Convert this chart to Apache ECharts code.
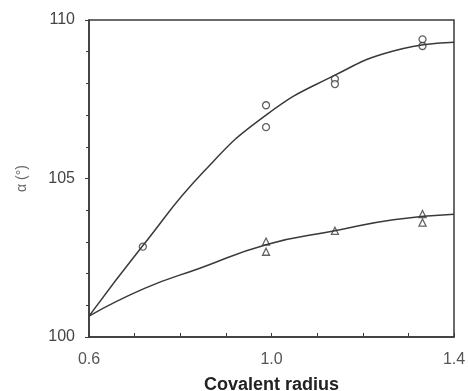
<!DOCTYPE html>
<html lang="en">
<head>
  <meta charset="UTF-8">
  <title>Covalent radius</title>
  <script src="https://cdn.jsdelivr.net/npm/echarts@6/dist/echarts.min.js"></script>
  <style>
    html, body { margin: 0; padding: 0; background: #fff; }
    #chart { width: 468px; height: 391px; }
  </style>
</head>
<body>
  <div id="chart"></div>
  <script>
    // measured points
    var circleX = [0.718, 0.988, 0.988, 1.139, 1.139, 1.331, 1.331]
    var circleY = [102.85, 107.31, 106.62, 108.14, 107.98, 109.39, 109.18]
    var triX = [0.988, 0.988, 1.139, 1.331, 1.331]
    var triY = [103.01, 102.69, 103.35, 103.88, 103.61]

    // fitted curves
    var upperX = [0.6, 0.719, 0.851, 0.988, 1.139, 1.267, 1.4]
    var upperY = [100.66, 102.9, 105.21, 107.0, 108.26, 109.02, 109.3]
    var lowerX = [0.6, 0.723, 0.843, 0.99, 1.139, 1.267, 1.4]
    var lowerY = [100.66, 101.54, 102.17, 102.92, 103.35, 103.7, 103.87]

    var xTicks = [0.6, 1.0, 1.4]
    var yTicks = [100, 105, 110]

    function pairs (xs, ys) {
      return xs.map(function (x, i) { return [x, ys[i]] })
    }

    var ink = '#3a3a3a'
    var chart = echarts.init(document.getElementById('chart'))
    chart.setOption({
      animation: false,
      textStyle: { fontFamily: 'Liberation Sans, Arial, sans-serif' },
      grid: {
        left: 89, top: 20, right: 14, bottom: 54,
        containLabel: false, outerBoundsMode: 'none',
        show: true, borderColor: ink, borderWidth: 1.5
      },
      xAxis: {
        type: 'value',
        min: xTicks[0], max: xTicks[xTicks.length - 1], interval: 0.4,
        name: 'Covalent radius',
        nameLocation: 'middle', nameGap: 39,
        nameTextStyle: { color: '#222', fontSize: 18, fontWeight: 'bold' },
        axisLine: { lineStyle: { color: ink, width: 1.5 } },
        axisTick: { inside: true, length: 4, lineStyle: { color: ink } },
        minorTick: { show: true, splitNumber: 4, length: 4, lineStyle: { color: ink } },
        splitLine: { show: false },
        axisLabel: {
          color: '#555', fontSize: 16, margin: 15,
          formatter: function (v) { return v.toFixed(1) }
        }
      },
      yAxis: {
        type: 'value',
        min: yTicks[0], max: yTicks[yTicks.length - 1], interval: 5,
        name: 'α (°)',
        nameLocation: 'middle', nameGap: 60, nameRotate: 90,
        nameTextStyle: { color: '#666', fontSize: 14 },
        axisLine: { lineStyle: { color: ink, width: 1.5 } },
        axisTick: { length: 4, lineStyle: { color: ink } },
        minorTick: { show: true, splitNumber: 5, length: 3, lineStyle: { color: ink } },
        splitLine: { show: false },
        axisLabel: { color: '#444', fontSize: 16, margin: 14 }
      },
      series: [
        {
          type: 'line', data: pairs(upperX, upperY), smooth: 0.5,
          showSymbol: false, lineStyle: { color: ink, width: 1.5 }
        },
        {
          type: 'line', data: pairs(lowerX, lowerY), smooth: 0.5,
          showSymbol: false, lineStyle: { color: ink, width: 1.5 }
        },
        {
          type: 'scatter', data: pairs(circleX, circleY),
          symbol: 'circle', symbolSize: 7,
          itemStyle: { color: '#fff', borderColor: ink, borderWidth: 1.3 }
        },
        {
          type: 'scatter', data: pairs(triX, triY),
          symbol: 'triangle', symbolSize: 7,
          itemStyle: { color: '#fff', borderColor: ink, borderWidth: 1.3 }
        }
      ]
    })
  </script>
</body>
</html>
